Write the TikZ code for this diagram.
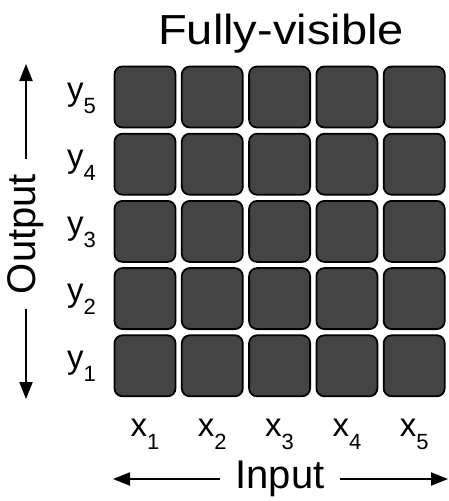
\documentclass[tikz,border=0pt]{standalone}
\usepackage{fontspec}
\setmainfont{Liberation Sans}
\usetikzlibrary{arrows.meta, positioning}
\definecolor{cCell}{RGB}{68,68,68}
\newcommand{\subidx}[1]{\raisebox{-13pt}{\fontsize{22}{22}\selectfont #1}}
\tikzset{
	cell/.style ={rectangle, rounded corners=8pt, minimum size=61pt, draw=black, line width=1.8pt, fill=cCell, inner sep=0pt},
	idxlbl/.style={inner sep=0pt, font=\fontsize{33}{33}\selectfont},
	axlbl/.style={inner sep=0pt, font=\fontsize{40}{40}\selectfont},
	axarrow/.style={-{Triangle[length=17pt, width=13pt]}, line width=2pt},
}
\begin{document}
\begin{tikzpicture}[x=1pt, y=-1pt]
	\useasboundingbox (0,0) rectangle (449,501);
	% title
	\node[inner sep=0pt, anchor=base, xscale=1.12, font=\fontsize{42}{42}\selectfont] (title) at (281,44) {Fully-visible};
	% grid of cells
	\foreach \i in {1,...,5}
	\foreach \j in {1,...,5}
	\node[cell] (c\i\j) at ({145+67.3*(\i-1)}, {97+67.2*(5-\j)}) {};
	% row and column labels
	\foreach \j in {1,...,5}
	\node[idxlbl, anchor=base east] (y\j) at (96, {100+67.2*(5-\j)}) {y\subidx{\j}};
	\foreach \i in {1,...,5}
	\node[idxlbl, anchor=base] (x\i) at ({145+67.3*(\i-1)}, 436) {x\subidx{\i}};
	% axes
	\coordinate (otop) at (26,64);
	\coordinate (obot) at (26,399);
	\node[axlbl, rotate=90, inner xsep=15pt] (output) at (26,234) {Output};
	\draw[axarrow] (output.east) -- (otop);
	\draw[axarrow] (output.west) -- (obot);
	\coordinate (ileft) at (113,479);
	\coordinate (iright) at (448,479);
	\node[axlbl, inner xsep=15pt] (input) at (280,479) {Input};
	\draw[axarrow] (input.west) -- (ileft);
	\draw[axarrow] (input.east) -- (iright);
\end{tikzpicture}
\end{document}
